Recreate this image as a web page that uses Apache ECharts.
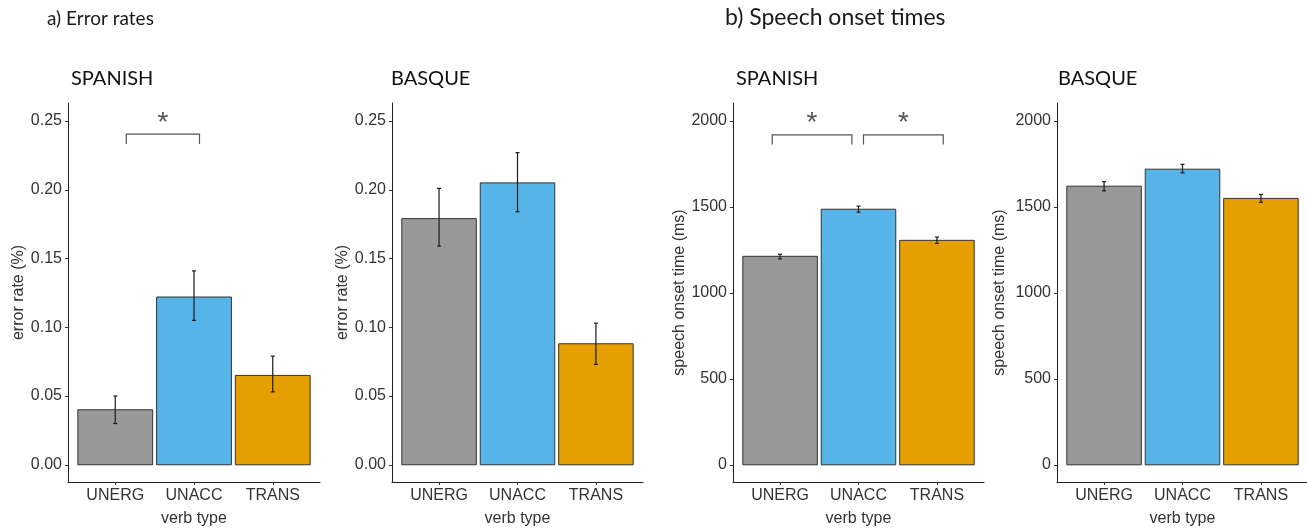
<!DOCTYPE html>
<html><head><meta charset="utf-8">
<script src="https://cdn.jsdelivr.net/npm/echarts@6/dist/echarts.min.js"></script>
<style>html,body{margin:0;padding:0;background:#fff}#c{width:1307px;height:531px}</style>
</head><body><div id="c"></div>
<script>
// ---- data ----
const categories = ['UNERG', 'UNACC', 'TRANS'];

const errorSpanish     = [0.040, 0.122, 0.065];
const errorSpanishLow  = [0.030, 0.105, 0.053];
const errorSpanishHigh = [0.050, 0.141, 0.079];

const errorBasque     = [0.179, 0.205, 0.088];
const errorBasqueLow  = [0.159, 0.184, 0.073];
const errorBasqueHigh = [0.201, 0.227, 0.103];

const onsetSpanish     = [1213, 1487, 1306];
const onsetSpanishLow  = [1198, 1470, 1288];
const onsetSpanishHigh = [1225, 1505, 1325];

const onsetBasque     = [1621, 1720, 1550];
const onsetBasqueLow  = [1594, 1699, 1527];
const onsetBasqueHigh = [1647, 1748, 1573];

const errorTicks = [0, 0.05, 0.10, 0.15, 0.20, 0.25];
const errorTickLabels = ['0.00', '0.05', '0.10', '0.15', '0.20', '0.25'];
const onsetTicks = [0, 500, 1000, 1500, 2000];
const onsetTickLabels = ['0', '500', '1000', '1500', '2000'];

// significance annotations: [from, to, top, end, starY]
const errorSpanishBrackets = [[0.14, 1.07, 0.2405, 0.2332, 0.2485]];
const onsetSpanishBrackets = [[-0.10, 0.916, 1920, 1864, 1988], [1.064, 2.08, 1920, 1864, 1988]];

// ---- styles / layout ----
const barColors = ['#999999', '#56B4E9', '#E69F00'];
const axisFont = 'Liberation Sans, Arial, sans-serif';
const titleFont = 'Lato, Carlito, Calibri, sans-serif';

const panels = [
  { title: 'SPANISH', titleLeft: 71, left: 68, width: 252, nameGap: 41, yName: 'error rate (%)',
    values: errorSpanish, low: errorSpanishLow, high: errorSpanishHigh,
    ticks: errorTicks, tickLabels: errorTickLabels, min: -0.01253, max: 0.2631, brackets: errorSpanishBrackets },
  { title: 'BASQUE', titleLeft: 391, left: 392, width: 251, nameGap: 41, yName: 'error rate (%)',
    values: errorBasque, low: errorBasqueLow, high: errorBasqueHigh,
    ticks: errorTicks, tickLabels: errorTickLabels, min: -0.01253, max: 0.2631, brackets: [] },
  { title: 'SPANISH', titleLeft: 736, left: 733, width: 251, nameGap: 45, yName: 'speech onset time (ms)',
    values: onsetSpanish, low: onsetSpanishLow, high: onsetSpanishHigh,
    ticks: onsetTicks, tickLabels: onsetTickLabels, min: -100, max: 2105, brackets: onsetSpanishBrackets },
  { title: 'BASQUE', titleLeft: 1058, left: 1057, width: 251, nameGap: 49, yName: 'speech onset time (ms)',
    values: onsetBasque, low: onsetBasqueLow, high: onsetBasqueHigh,
    ticks: onsetTicks, tickLabels: onsetTickLabels, min: -100, max: 2105, brackets: [] }
];

const grid = [], xAxis = [], yAxis = [], series = [];
const title = [
  { text: 'a) Error rates', left: 47, top: 9, padding: 0,
    textStyle: { fontFamily: titleFont, fontSize: 19, fontWeight: 'normal', color: '#1a1a1a', lineHeight: 19 } },
  { text: 'b) Speech onset times', left: 725, top: 6, padding: 0,
    textStyle: { fontFamily: titleFont, fontSize: 23, fontWeight: 'normal', color: '#1a1a1a', lineHeight: 23 } }
];

const HALF = 0.475;

panels.forEach((p, k) => {
  title.push({ text: p.title, left: p.titleLeft, top: 69, padding: 0,
    textStyle: { fontFamily: titleFont, fontSize: 20, fontWeight: 'normal', color: '#111', lineHeight: 20 } });
  grid.push({ left: p.left, top: 103, width: p.width, height: 379, outerBoundsMode: 'none', containLabel: false });
  xAxis.push({
    type: 'value', gridIndex: k, min: -0.6, max: 2.6,
    name: 'verb type', nameLocation: 'middle', nameGap: 29,
    nameTextStyle: { fontFamily: axisFont, fontSize: 16, color: '#333' },
    axisLine: { show: true, onZero: false, lineStyle: { color: '#222', width: 1 } },
    axisTick: { show: true, length: 3, customValues: [0, 1, 2], lineStyle: { color: '#333' } },
    axisLabel: { show: true, margin: 6, customValues: [0, 1, 2], fontFamily: axisFont, fontSize: 16, color: '#333',
      formatter: v => categories[Math.round(v)] || '' },
    splitLine: { show: false }
  });
  yAxis.push({
    type: 'value', gridIndex: k, min: p.min, max: p.max,
    name: p.yName, nameLocation: 'middle', nameGap: p.nameGap,
    nameTextStyle: { fontFamily: axisFont, fontSize: 16, color: '#333' },
    axisLine: { show: true, onZero: false, lineStyle: { color: '#222', width: 1 } },
    axisTick: { show: true, length: 3, customValues: p.ticks, lineStyle: { color: '#333' } },
    axisLabel: { show: true, margin: 6, customValues: p.ticks, fontFamily: axisFont, fontSize: 16, color: '#333',
      formatter: v => { const i = p.ticks.findIndex(t => Math.abs(t - v) < 1e-9); return i >= 0 ? p.tickLabels[i] : ''; } },
    splitLine: { show: false }
  });
  // bars
  series.push({
    type: 'custom', xAxisIndex: k, yAxisIndex: k,
    data: p.values.map((v, i) => [i, v]),
    encode: { x: 0, y: 1 },
    renderItem: (params, api) => {
      const x = api.value(0), y = api.value(1);
      const a = api.coord([x - HALF, y]);
      const b = api.coord([x + HALF, 0]);
      return { type: 'rect',
        shape: { x: a[0], y: a[1], width: b[0] - a[0], height: b[1] - a[1] },
        style: { fill: barColors[params.dataIndex], stroke: '#333', lineWidth: 1 } };
    }
  });
  // error bars
  series.push({
    type: 'custom', xAxisIndex: k, yAxisIndex: k,
    data: p.low.map((lo, i) => [i, lo, p.high[i]]),
    encode: { x: 0, y: [1, 2] },
    z: 3,
    renderItem: (params, api) => {
      const x = api.value(0);
      const lo = api.coord([x, api.value(1)]);
      const hi = api.coord([x, api.value(2)]);
      const st = { stroke: '#1a1a1a', lineWidth: 1.2 };
      return { type: 'group', children: [
        { type: 'line', shape: { x1: lo[0], y1: lo[1], x2: hi[0], y2: hi[1] }, style: st },
        { type: 'line', shape: { x1: lo[0] - 2, y1: lo[1], x2: lo[0] + 2, y2: lo[1] }, style: st },
        { type: 'line', shape: { x1: hi[0] - 2, y1: hi[1], x2: hi[0] + 2, y2: hi[1] }, style: st }
      ] };
    }
  });
  if (p.brackets.length) {
    series.push({
      type: 'custom', xAxisIndex: k, yAxisIndex: k,
      data: p.brackets,
      encode: { x: [0, 1], y: [2, 3, 4] },
      renderItem: (params, api) => {
        const f = api.value(0), t = api.value(1), top = api.value(2), end = api.value(3), sy = api.value(4);
        const p1 = api.coord([f, end]), p2 = api.coord([f, top]), p3 = api.coord([t, top]), p4 = api.coord([t, end]);
        const s = api.coord([(f + t) / 2, sy]);
        return { type: 'group', children: [
          { type: 'polyline', shape: { points: [p1, p2, p3, p4] }, style: { stroke: '#555', lineWidth: 1.2, fill: null } },
          { type: 'text', x: s[0], y: s[1], style: { text: '*', fill: '#555', fontSize: 28, fontFamily: axisFont,
            align: 'center', verticalAlign: 'middle' } }
        ] };
      }
    });
  }
});

const chart = echarts.init(document.getElementById('c'), null, { renderer: 'canvas' });
chart.setOption({ animation: false, backgroundColor: '#fff', title, grid, xAxis, yAxis, series });
</script>
</body></html>
